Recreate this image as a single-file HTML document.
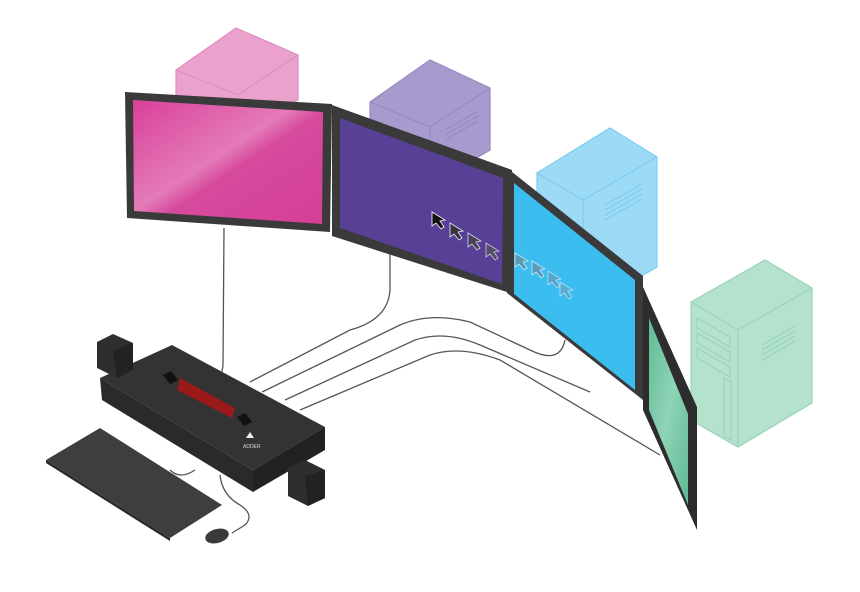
<!DOCTYPE html>
<html><head><style>body{margin:0;background:#fff}svg{display:block}</style></head><body>
<svg width="860" height="592" viewBox="0 0 860 592" xmlns="http://www.w3.org/2000/svg">
<defs>
<linearGradient id="pk" x1="0" y1="0" x2="1" y2="1"><stop offset="0" stop-color="#d9409a"/><stop offset=".45" stop-color="#e47bb8"/><stop offset=".55" stop-color="#d64a9c"/><stop offset="1" stop-color="#d43f98"/></linearGradient>
<linearGradient id="gr" x1="0" y1="0" x2="1" y2="1"><stop offset="0" stop-color="#5fba96"/><stop offset=".5" stop-color="#8fd4b6"/><stop offset="1" stop-color="#5fb894"/></linearGradient>
</defs>
<!-- towers -->
<g stroke-width="1.2">
<polygon points="176,70 236,28 298,55 298,100 238,130 176,100" fill="#eaa2cc" stroke="#e08cc0"/>
<polyline points="176,70 238,95 298,55 M238,95" fill="none" stroke="#e08cc0"/>
<polygon points="370,102 430,60 490,88 490,150 430,185 370,150" fill="#a99acd" stroke="#9888c4"/>
<polyline points="370,102 430,127 490,88" fill="none" stroke="#9888c4"/><line x1="430" y1="127" x2="430" y2="185" stroke="#9888c4"/>
<polygon points="537,173 610,128 657,157 657,267 600,300 537,260" fill="#9ddaf5" stroke="#7ccdef"/>
<polyline points="537,173 583,200 657,157" fill="none" stroke="#7ccdef"/><line x1="583" y1="200" x2="583" y2="300" stroke="#7ccdef"/>
<polygon points="691,302 765,260 812,288 812,403 738,447 691,420" fill="#b5e2cd" stroke="#98d4b8"/>
<polyline points="691,302 738,330 812,288" fill="none" stroke="#98d4b8"/><line x1="738" y1="330" x2="738" y2="447" stroke="#98d4b8"/>
<g stroke="#98d4b8" fill="none"><path d="M697,318 L730,337 L730,347 L697,328Z M697,333 L730,352 L730,362 L697,343Z M697,348 L730,367 L730,377 L697,358Z"/><path d="M724,378 L731,382 L731,440 L724,436Z"/>
<path d="M762,345 L795,326 M762,350 L795,331 M762,355 L795,336 M762,360 L795,341"/></g>
<g stroke="#7ccdef" fill="none"><path d="M605,205 L642,184 M605,210 L642,189 M605,215 L642,194 M605,220 L642,199"/></g>
<g stroke="#9888c4" fill="none"><path d="M445,130 L478,111 M445,135 L478,116 M445,140 L478,121"/></g>
</g>
<!-- cables -->
<g fill="none" stroke="#555" stroke-width="1.3">
<path d="M224,228 L223,365 Q222,378 212,384"/>
<path d="M390,245 L390,290 Q388,320 350,330 L250,382"/>
<path d="M262,392 L400,325 Q430,312 470,322 L530,350 Q560,365 565,340"/>
<path d="M285,400 L415,340 Q445,330 480,345 L590,392"/>
<path d="M300,410 L430,355 Q460,345 500,360 L660,455"/>
<path d="M220,475 Q222,495 240,505 Q255,515 245,525 L232,533"/>
<path d="M170,470 Q180,480 195,470"/>
</g>
<!-- monitors -->
<polygon points="125,92 332,104 330,232 127,218" fill="#3a3a3a"/>
<polygon points="133,100 323,112 322,224 134,211" fill="url(#pk)"/>
<polygon points="332,105 512,170 510,293 332,236" fill="#3a3a3a"/>
<polygon points="340,118 503,178 502,284 340,228" fill="#574096"/>
<polygon points="507,168 643,276 643,400 507,293" fill="#3a3a3a"/>
<polygon points="514,183 635,280 635,390 514,294" fill="#3bbdf0"/>
<polygon points="643,287 697,407 697,530 643,410" fill="#2d2d2d"/>
<polygon points="649,318 688,414 688,505 649,410" fill="url(#gr)"/>
<!-- cursors -->
<g stroke="#fff" stroke-width=".8">
<path d="M432,212 l0,14 l4,-3 l5,6 l3,-2 l-4,-6 l5,-1z" fill="#111"/>
<path d="M450,223 l0,14 l4,-3 l5,6 l3,-2 l-4,-6 l5,-1z" fill="#333" opacity=".9"/>
<path d="M468,233 l0,14 l4,-3 l5,6 l3,-2 l-4,-6 l5,-1z" fill="#444" opacity=".8"/>
<path d="M486,243 l0,14 l4,-3 l5,6 l3,-2 l-4,-6 l5,-1z" fill="#555" opacity=".7"/>
<path d="M515,253 l0,14 l4,-3 l5,6 l3,-2 l-4,-6 l5,-1z" fill="#6a8a9a" opacity=".7"/>
<path d="M532,261 l0,14 l4,-3 l5,6 l3,-2 l-4,-6 l5,-1z" fill="#6a8fa5" opacity=".7"/>
<path d="M548,271 l0,14 l4,-3 l5,6 l3,-2 l-4,-6 l5,-1z" fill="#6a95ad" opacity=".6"/>
<path d="M560,282 l0,14 l4,-3 l5,6 l3,-2 l-4,-6 l5,-1z" fill="#70a0b8" opacity=".6"/>
</g>
<!-- KVM -->
<polygon points="100,378 172,345 325,427 253,470" fill="#333"/>
<polygon points="100,378 253,470 253,492 102,400" fill="#2a2a2a"/>
<polygon points="253,470 325,427 325,450 253,492" fill="#222"/>
<polygon points="97,342 113,334 133,343 133,370 117,378 97,368" fill="#2e2e2e"/>
<polygon points="113,350 133,343 133,370 117,378" fill="#222"/>
<polygon points="288,468 305,460 325,470 325,498 308,506 288,496" fill="#2e2e2e"/>
<polygon points="305,476 325,470 325,498 308,506" fill="#222"/>
<polygon points="180,378 235,408 232,418 177,390" fill="#9a1a1a"/>
<polygon points="163,375 171,371 178,380 170,384" fill="#111"/>
<polygon points="237,417 245,413 252,422 244,426" fill="#111"/>
<text x="243" y="448" font-family="Liberation Sans, sans-serif" font-size="5" fill="#ddd">ADDER</text>
<path d="M246,438 l4,-6 l4,6z" fill="#eee"/>
<!-- keyboard -->
<polygon points="46,460 100,428 222,505 170,538" fill="#3e3e3e"/>
<polygon points="46,460 170,538 170,541 46,463" fill="#2a2a2a"/>
<ellipse cx="217" cy="536" rx="12" ry="7" fill="#3a3a3a" transform="rotate(-15 217 536)"/>
</svg>
</body></html>
